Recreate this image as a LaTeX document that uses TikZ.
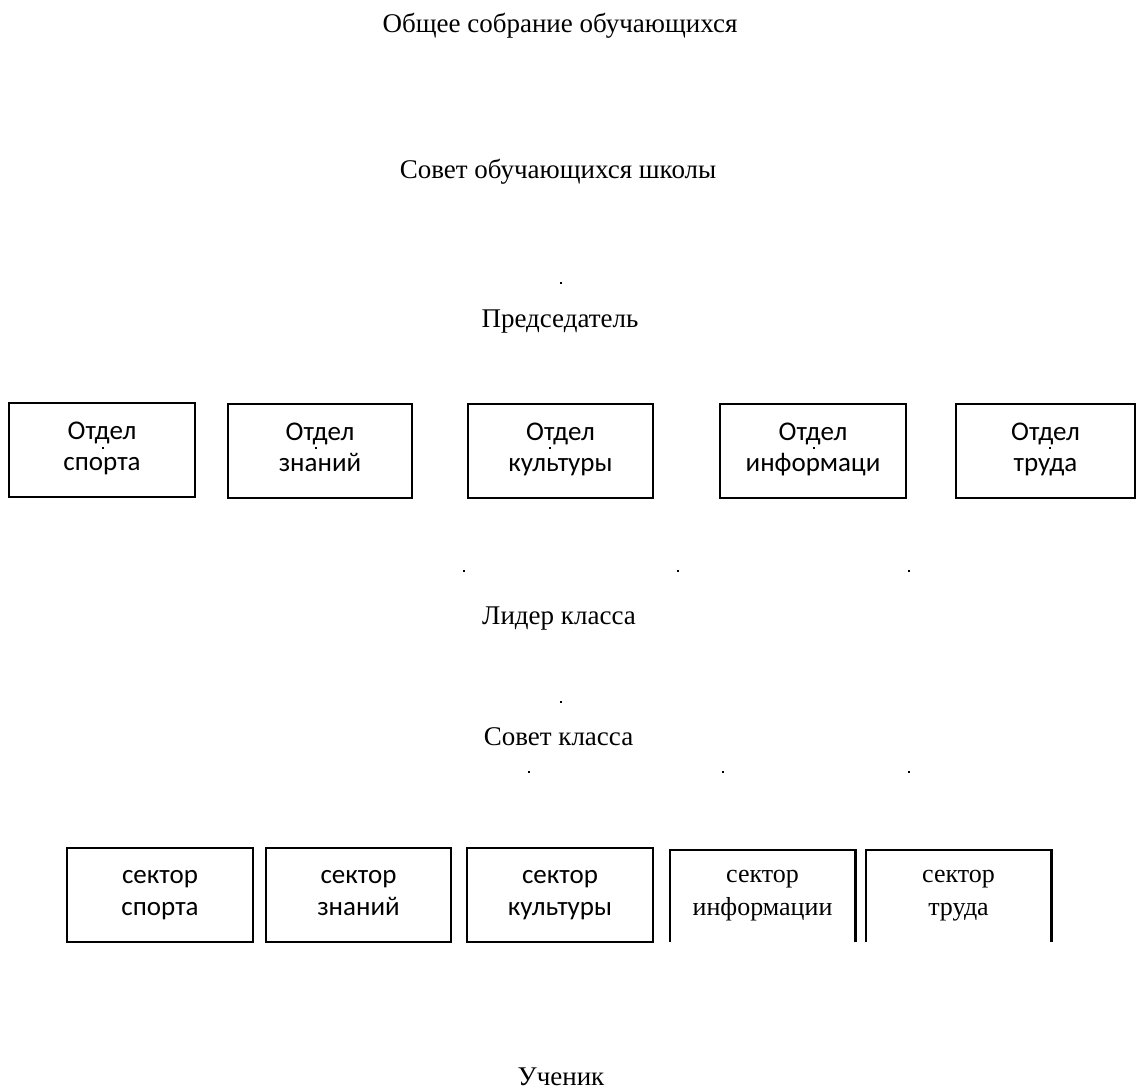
\documentclass[tikz,border=0pt]{standalone}
\usepackage{fontspec}
\setmainfont{Liberation Serif}
\newfontfamily\boxfont{Carlito}
\newcommand{\toprule}{\rule{0pt}{20pt}}
\newcommand{\botrule}{\rule[-11pt]{0pt}{11pt}}
\newcommand{\sbotrule}{\rule[-15pt]{0pt}{15pt}}
\begin{document}
\begin{tikzpicture}[x=1pt,y=-1pt,
  lbl/.style={font=\fontsize{27}{32}\selectfont, anchor=base, inner sep=0pt},
  dept/.style={draw, line width=1.6pt, font=\boxfont\fontsize{27}{31}\selectfont, align=center, inner sep=0pt, minimum height=94pt},
  sect/.style={draw, line width=1.6pt, font=\boxfont\fontsize{27}{32}\selectfont, align=center, inner sep=0pt, minimum height=94pt},
  opensect/.style={font=\fontsize{26}{33}\selectfont, align=center, inner sep=0pt, minimum height=92pt},
  openside/.style={line width=2.6pt},
  speck/.style={fill=black}]
\useasboundingbox (0,0) rectangle (1137,1090);
% headings
\node[lbl] (assembly) at (560,32) {Общее собрание обучающихся};
\node[lbl] (council) at (558,178) {Совет обучающихся школы};
\node[lbl] (chair) at (560,327) {Председатель};
\node[lbl] (leader) at (559,624) {Лидер класса};
\node[lbl] (clscouncil) at (558.5,745) {Совет класса};
\node[lbl] (pupil) at (561,1085) {Ученик};
% departments
\node[dept, minimum width=186pt] (d1) at (102,450) {\toprule Отдел\\спорта\botrule};
\node[dept, minimum width=184pt] (d2) at (320,451) {\toprule Отдел\\знаний\botrule};
\node[dept, minimum width=185pt] (d3) at (560.5,451) {\toprule Отдел\\культуры\botrule};
\node[dept, minimum width=186pt] (d4) at (813,451) {\toprule Отдел\\информаци\botrule};
\node[dept, minimum width=179pt] (d5) at (1045.5,451) {\toprule Отдел\\труда\botrule};
% sectors
\node[sect, minimum width=186pt] (s1) at (160,895) {\toprule сектор\\спорта\botrule};
\node[sect, minimum width=185pt] (s2) at (358.5,895) {\toprule сектор\\знаний\botrule};
\node[sect, minimum width=186pt] (s3) at (560,895) {\toprule сектор\\культуры\botrule};
\node[opensect, minimum width=185pt] (s4) at (762.5,896) {\toprule сектор\\информации\sbotrule};
\node[opensect, minimum width=185pt] (s5) at (958.5,896) {\toprule сектор\\труда\sbotrule};
\draw[openside] (s4.south west) -- (s4.north west) -- (s4.north east) -- (s4.south east);
\draw[openside] (s5.south west) -- (s5.north west) -- (s5.north east) -- (s5.south east);
% specks
\foreach \p in {(561,283),(103,448),(316,448),(550,448),(814,448),(1050,448),(464,571),(678,571),(909,571),(561,702),(529,772),(723,772)}
  \fill[speck] \p ++(-0.6,-0.6) rectangle ++(1.2,1.2);
\fill[speck] (909,772) ++(-0.9,-0.9) rectangle ++(1.8,1.8);
\end{tikzpicture}
\end{document}
